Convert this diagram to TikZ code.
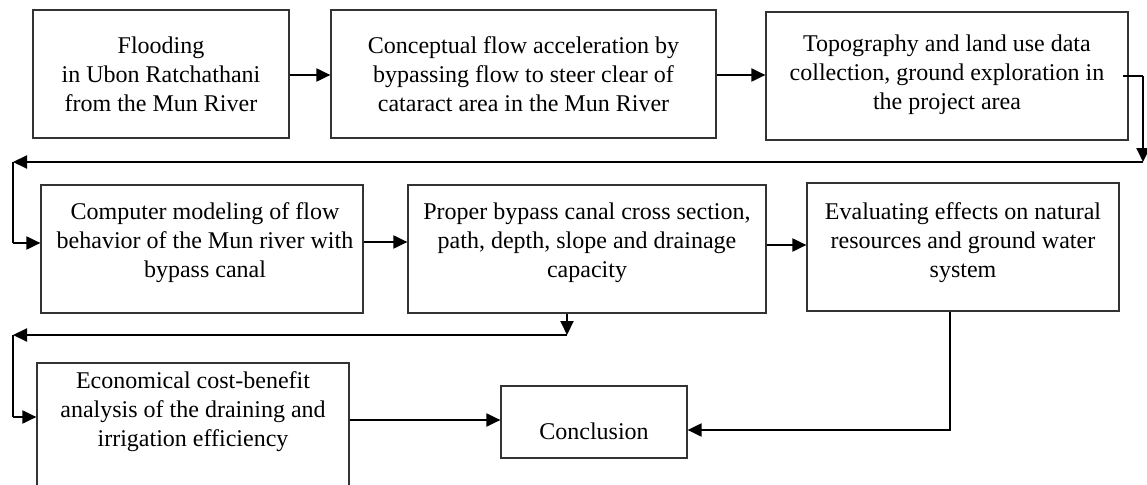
\documentclass[tikz,border=0pt]{standalone}
\usepackage{fontspec}
\setmainfont{Liberation Serif}
\usetikzlibrary{arrows.meta,calc}
\begin{document}
\begin{tikzpicture}[x=1pt,y=-1pt,
  box/.style={draw=black!80, line width=1.2pt, inner sep=0pt},
  txt/.style={align=center, inner sep=0pt, font=\fontsize{24}{29}\selectfont},
  ln/.style={line width=2pt, black},
  arr/.style={line width=2pt, black, -{Triangle[length=14pt,width=13pt]}}]
\useasboundingbox (0,0) rectangle (1147,484);
% boxes
\node[box, minimum width=256pt, minimum height=128pt] (b1) at (161,74) {};
\node[box, minimum width=385pt, minimum height=128pt] (b2) at (523.5,74) {};
\node[box, minimum width=362pt, minimum height=128pt] (b3) at (947,76) {};
\node[box, minimum width=322pt, minimum height=128pt] (b4) at (202,249) {};
\node[box, minimum width=358pt, minimum height=128pt] (b5) at (587,249) {};
\node[box, minimum width=312pt, minimum height=128pt] (b6) at (963,247) {};
\node[box, minimum width=312pt, minimum height=125pt] (b7) at (193,425.5) {};
\node[box, minimum width=186pt, minimum height=72pt] (b8) at (594,422) {};
% texts
\node[txt] (b1t) at (161,74) {Flooding\\in Ubon Ratchathani\\from the Mun River};
\node[txt] (b2t) at (523.5,74) {Conceptual flow acceleration by\\bypassing flow to steer clear of\\cataract area in the Mun River};
\node[txt] (b3t) at (947,75) {Topography and land use data\\collection, ground exploration in\\the project area};
\node[txt] (b4t) at (205,243) {Computer modeling of flow\\behavior of the Mun river with\\bypass canal};
\node[txt] (b5t) at (587,243) {Proper bypass canal cross section,\\path, depth, slope and drainage\\capacity};
\node[txt] (b6t) at (963,243) {Evaluating effects on natural\\resources and ground water\\system};
\node[txt] (b7t) at (193,412) {Economical cost-benefit\\analysis of the draining and\\irrigation efficiency};
\node[txt] (b8t) at (594,431) {Conclusion};
% row 1 arrows
\coordinate (a1) at (0,75);
\draw[arr] (a1 -| b1.east) -- (a1 -| b2.west);
\draw[arr] (a1 -| b2.east) -- (a1 -| b3.west);
% from box 3 to box 4
\coordinate (p1) at (1123,76);
\coordinate (p2) at (1143,76);
\coordinate (p3) at (1143,162);
\coordinate (p4) at (13,162);
\coordinate (p5) at (13,243);
\draw[ln] (p1) -- (p2);
\draw[arr] (p2) -- (p3);
\draw[arr] (p3) -- (p4);
\draw[ln] (p4) -- (p5);
\draw[arr] (p5) -- (p5 -| b4.west);
% row 2 arrows
\coordinate (a2) at (0,242);
\coordinate (a3) at (0,245);
\draw[arr] (a2 -| b4.east) -- (a2 -| b5.west);
\draw[arr] (a3 -| b5.east) -- (a3 -| b6.west);
% from box 5 to box 7
\coordinate (q1) at (567,335);
\coordinate (q2) at (13,335);
\coordinate (q3) at (13,417);
\draw[arr] (q1 |- b5.south) -- (q1);
\draw[arr] (q1) -- (q2);
\draw[ln] (q2) -- (q3);
\draw[arr] (q3) -- (q3 -| b7.west);
% to conclusion
\coordinate (r1) at (0,420);
\draw[arr] (r1 -| b7.east) -- (r1 -| b8.west);
\coordinate (s1) at (950,430);
\draw[arr] (s1 |- b6.south) -- (s1) -- (s1 -| b8.east);
\end{tikzpicture}
\end{document}
